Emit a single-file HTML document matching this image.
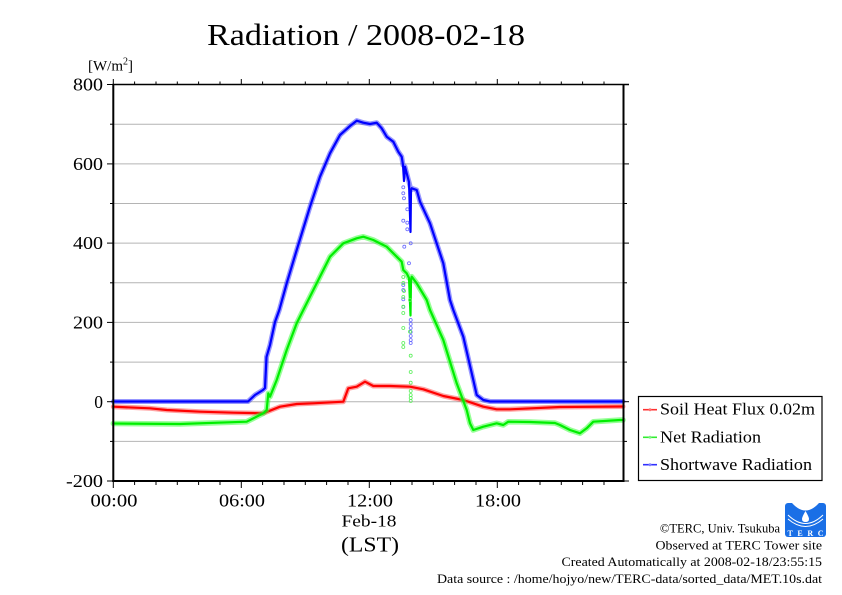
<!DOCTYPE html>
<html><head><meta charset="utf-8"><style>
html,body{margin:0;padding:0;background:#fff;}
svg{display:block;}
text{font-family:"Liberation Serif","DejaVu Serif",serif;fill:#000;}
</style></head><body>
<svg width="842" height="595" viewBox="0 0 842 595" xmlns="http://www.w3.org/2000/svg">
<rect width="842" height="595" fill="#fff"/>
<!-- title -->
<text x="207" y="45" font-size="31" textLength="318" lengthAdjust="spacingAndGlyphs">Radiation / 2008-02-18</text>
<!-- unit -->
<text x="88" y="70.5" font-size="15">[W/m<tspan font-size="10" dy="-6">2</tspan><tspan dy="6">]</tspan></text>
<!-- gridlines -->
<g stroke="#b4b4b4" stroke-width="1">
<line x1="114" x2="623" y1="124.2" y2="124.2"/>
<line x1="114" x2="623" y1="163.9" y2="163.9"/>
<line x1="114" x2="623" y1="203.5" y2="203.5"/>
<line x1="114" x2="623" y1="243.1" y2="243.1"/>
<line x1="114" x2="623" y1="282.8" y2="282.8"/>
<line x1="114" x2="623" y1="322.4" y2="322.4"/>
<line x1="114" x2="623" y1="362.1" y2="362.1"/>
<line x1="114" x2="623" y1="401.7" y2="401.7"/>
<line x1="114" x2="623" y1="441.4" y2="441.4"/>
</g>
<!-- data -->
<g fill="none" stroke-linejoin="round" stroke-linecap="round">
<!-- red -->
<polyline stroke="#ff3030" stroke-opacity="0.45" stroke-width="5" points="113.3,406.7 150,408.3 166.7,410 200,411.7 233.3,412.7 263.3,413.3 280,406.7 296.7,404 313.3,403.3 343.3,401.7 348.3,388.3 356.7,386.7 365,381.7 373.3,386 390,386 410,386.7 423.3,389.3 443.3,396 463.3,400 483.3,406.7 496.7,409.3 510,409.3 560,407 623,406.5"/>
<polyline stroke="#ff0000" stroke-width="2.2" points="113.3,406.7 150,408.3 166.7,410 200,411.7 233.3,412.7 263.3,413.3 280,406.7 296.7,404 313.3,403.3 343.3,401.7 348.3,388.3 356.7,386.7 365,381.7 373.3,386 390,386 410,386.7 423.3,389.3 443.3,396 463.3,400 483.3,406.7 496.7,409.3 510,409.3 560,407 623,406.5"/>
<!-- green -->
<polyline stroke="#30ff30" stroke-opacity="0.5" stroke-width="5.5" points="113.3,423.5 180,424 246.7,421.7 263.3,413.3 266.7,410 268.3,393.3 270,396.7 276.7,380 286.7,350 296.7,323.3 303.3,310 316.7,283.3 330,256.7 343.3,243.3 356.7,238.3 363.3,236.7 373.3,240 386.7,246.7 396.7,256.7 401.7,261.7 403.3,270 406.7,273.3 409,278 411.7,276.7 416.7,283.3 426.7,300 430,310 443.3,340 456.7,383.3 466.7,410 470,423.3 473.3,430 483.3,426.7 496.7,423.3 503.3,425 508.3,421.7 530,422 555,423 560,425 570,430 580,433.3 586.7,428.3 593.3,421.7 620,420 623,420"/>
<polyline stroke="#00ee00" stroke-width="2.2" points="113.3,423.5 180,424 246.7,421.7 263.3,413.3 266.7,410 268.3,393.3 270,396.7 276.7,380 286.7,350 296.7,323.3 303.3,310 316.7,283.3 330,256.7 343.3,243.3 356.7,238.3 363.3,236.7 373.3,240 386.7,246.7 396.7,256.7 401.7,261.7 403.3,270 406.7,273.3 409,278 410.5,315.5 411,280 411.7,276.7 416.7,283.3 426.7,300 430,310 443.3,340 456.7,383.3 466.7,410 470,423.3 473.3,430 483.3,426.7 496.7,423.3 503.3,425 508.3,421.7 530,422 555,423 560,425 570,430 580,433.3 586.7,428.3 593.3,421.7 620,420 623,420"/>
<!-- blue -->
<polyline stroke="#3030ff" stroke-opacity="0.5" stroke-width="5" points="113.3,401.5 248,401.5 255,395 263,390 265,388 266.5,357 270,345 275,322 279.3,310 286.7,283.3 296.7,250 310,206.7 320,176.7 330,153.3 340,135 350,126 356.7,120.7 363.3,122.7 370,124 376.7,122.7 381.7,128.3 386.7,136.7 393.3,141.7 398.3,151.7 401.7,156.7 403,165 405,166.7 406.7,173.3 409,182 411,190 411.7,188.3 416.7,190 420,201.7 430,223.3 443.3,263.3 450,300 453.3,310 463.3,336.7 473.3,380 476.7,395 483.3,400 490,401.5 623,401.5"/>
<polyline stroke="#0000ff" stroke-width="2.2" points="113.3,401.5 248,401.5 255,395 263,390 265,388 266.5,357 270,345 275,322 279.3,310 286.7,283.3 296.7,250 310,206.7 320,176.7 330,153.3 340,135 350,126 356.7,120.7 363.3,122.7 370,124 376.7,122.7 381.7,128.3 386.7,136.7 393.3,141.7 398.3,151.7 401.7,156.7 403,165 404,181 405,166.7 406.7,173.3 409,182 410.5,232 411,190 411.7,188.3 416.7,190 420,201.7 430,223.3 443.3,263.3 450,300 453.3,310 463.3,336.7 473.3,380 476.7,395 483.3,400 490,401.5 623,401.5"/>
</g>
<!-- scattered dots -->
<g fill="none" stroke="#6a6aff" stroke-width="0.8">
<circle cx="403.3" cy="187.3" r="1.5"/><circle cx="403.3" cy="193.3" r="1.5"/><circle cx="404" cy="198.3" r="1.5"/>
<circle cx="407.3" cy="209.3" r="1.5"/><circle cx="403.3" cy="220.7" r="1.5"/><circle cx="407.3" cy="222.7" r="1.5"/>
<circle cx="407.3" cy="229.3" r="1.5"/><circle cx="410.7" cy="243.3" r="1.5"/><circle cx="404.3" cy="246.7" r="1.5"/>
<circle cx="409" cy="263.3" r="1.5"/><circle cx="403.3" cy="285" r="1.5"/><circle cx="403.3" cy="290" r="1.5"/>
<circle cx="403.3" cy="299.3" r="1.5"/><circle cx="410.7" cy="320" r="1.5"/><circle cx="410.7" cy="324" r="1.5"/>
<circle cx="410.7" cy="328" r="1.5"/><circle cx="410.7" cy="332" r="1.5"/><circle cx="410.7" cy="336" r="1.5"/>
<circle cx="410.7" cy="340" r="1.5"/><circle cx="410.7" cy="343" r="1.5"/><circle cx="403.3" cy="307" r="1.5"/>
</g>
<g fill="none" stroke="#5aef5a" stroke-width="0.8">
<circle cx="403.3" cy="277" r="1.5"/><circle cx="403.3" cy="283" r="1.5"/><circle cx="404" cy="291" r="1.5"/>
<circle cx="403.3" cy="297" r="1.5"/><circle cx="403.3" cy="306.7" r="1.5"/><circle cx="403.3" cy="328" r="1.5"/>
<circle cx="410" cy="331.7" r="1.5"/><circle cx="403.3" cy="343" r="1.5"/><circle cx="403.3" cy="347" r="1.5"/>
<circle cx="410.7" cy="355.7" r="1.5"/><circle cx="410.7" cy="372" r="1.5"/><circle cx="410.7" cy="382.7" r="1.5"/>
<circle cx="410.7" cy="391" r="1.5"/><circle cx="410.7" cy="395" r="1.5"/><circle cx="410.7" cy="398" r="1.5"/>
<circle cx="410.7" cy="401" r="1.5"/><circle cx="403.3" cy="313" r="1.5"/><circle cx="410" cy="300" r="1.5"/>
</g>
<!-- frame -->
<g stroke="#000" fill="none">
<line x1="112.3" y1="84.5" x2="629" y2="84.5" stroke-width="1.5"/>
<line x1="113.3" y1="84" x2="113.3" y2="482" stroke-width="2"/>
<line x1="112.3" y1="481" x2="624.5" y2="481" stroke-width="2"/>
<line x1="623.5" y1="84" x2="623.5" y2="482" stroke-width="2"/>
</g>
<!-- ticks -->
<g stroke="#000" stroke-width="1">
<line x1="113.3" y1="84" x2="113.3" y2="79"/><line x1="134.6" y1="84" x2="134.6" y2="81.5"/><line x1="156" y1="84" x2="156" y2="81.5"/><line x1="177.3" y1="84" x2="177.3" y2="81.5"/><line x1="198.6" y1="84" x2="198.6" y2="81.5"/><line x1="220" y1="84" x2="220" y2="81.5"/>
<line x1="241.3" y1="84" x2="241.3" y2="79"/><line x1="262.6" y1="84" x2="262.6" y2="81.5"/><line x1="284" y1="84" x2="284" y2="81.5"/><line x1="305.3" y1="84" x2="305.3" y2="81.5"/><line x1="326.6" y1="84" x2="326.6" y2="81.5"/><line x1="348" y1="84" x2="348" y2="81.5"/>
<line x1="369.3" y1="84" x2="369.3" y2="79"/><line x1="390.6" y1="84" x2="390.6" y2="81.5"/><line x1="412" y1="84" x2="412" y2="81.5"/><line x1="433.3" y1="84" x2="433.3" y2="81.5"/><line x1="454.6" y1="84" x2="454.6" y2="81.5"/><line x1="476" y1="84" x2="476" y2="81.5"/>
<line x1="497.3" y1="84" x2="497.3" y2="79"/><line x1="518.6" y1="84" x2="518.6" y2="81.5"/><line x1="540" y1="84" x2="540" y2="81.5"/><line x1="561.3" y1="84" x2="561.3" y2="81.5"/><line x1="582.6" y1="84" x2="582.6" y2="81.5"/><line x1="604" y1="84" x2="604" y2="81.5"/>
<line x1="113.3" y1="481" x2="113.3" y2="488"/><line x1="134.6" y1="481" x2="134.6" y2="485"/><line x1="156" y1="481" x2="156" y2="485"/><line x1="177.3" y1="481" x2="177.3" y2="485"/><line x1="198.6" y1="481" x2="198.6" y2="485"/><line x1="220" y1="481" x2="220" y2="485"/>
<line x1="241.3" y1="481" x2="241.3" y2="488"/><line x1="262.6" y1="481" x2="262.6" y2="485"/><line x1="284" y1="481" x2="284" y2="485"/><line x1="305.3" y1="481" x2="305.3" y2="485"/><line x1="326.6" y1="481" x2="326.6" y2="485"/><line x1="348" y1="481" x2="348" y2="485"/>
<line x1="369.3" y1="481" x2="369.3" y2="488"/><line x1="390.6" y1="481" x2="390.6" y2="485"/><line x1="412" y1="481" x2="412" y2="485"/><line x1="433.3" y1="481" x2="433.3" y2="485"/><line x1="454.6" y1="481" x2="454.6" y2="485"/><line x1="476" y1="481" x2="476" y2="485"/>
<line x1="497.3" y1="481" x2="497.3" y2="488"/><line x1="518.6" y1="481" x2="518.6" y2="485"/><line x1="540" y1="481" x2="540" y2="485"/><line x1="561.3" y1="481" x2="561.3" y2="485"/><line x1="582.6" y1="481" x2="582.6" y2="485"/><line x1="604" y1="481" x2="604" y2="485"/>
<line x1="107" y1="84.5" x2="113" y2="84.5"/><line x1="110" y1="124.2" x2="113" y2="124.2"/><line x1="107" y1="163.9" x2="113" y2="163.9"/><line x1="110" y1="203.5" x2="113" y2="203.5"/>
<line x1="107" y1="243.1" x2="113" y2="243.1"/><line x1="110" y1="282.8" x2="113" y2="282.8"/><line x1="107" y1="322.4" x2="113" y2="322.4"/><line x1="110" y1="362.1" x2="113" y2="362.1"/>
<line x1="107" y1="401.7" x2="113" y2="401.7"/><line x1="110" y1="441.4" x2="113" y2="441.4"/><line x1="107" y1="481" x2="113" y2="481"/>
<line x1="624" y1="124.2" x2="627" y2="124.2"/><line x1="624" y1="163.9" x2="629" y2="163.9"/><line x1="624" y1="203.5" x2="627" y2="203.5"/>
<line x1="624" y1="243.1" x2="629" y2="243.1"/><line x1="624" y1="282.8" x2="627" y2="282.8"/><line x1="624" y1="322.4" x2="629" y2="322.4"/><line x1="624" y1="362.1" x2="627" y2="362.1"/>
<line x1="624" y1="401.7" x2="629" y2="401.7"/><line x1="624" y1="441.4" x2="627" y2="441.4"/><line x1="624" y1="481" x2="629" y2="481"/>
</g>
<!-- y labels -->
<g font-size="17.5" text-anchor="end">
<text x="103" y="90.5" textLength="30" lengthAdjust="spacingAndGlyphs">800</text>
<text x="103" y="169.9" textLength="30" lengthAdjust="spacingAndGlyphs">600</text>
<text x="103" y="249.1" textLength="30" lengthAdjust="spacingAndGlyphs">400</text>
<text x="103" y="328.4" textLength="30" lengthAdjust="spacingAndGlyphs">200</text>
<text x="103" y="407.9">0</text>
<text x="103" y="487" textLength="37" lengthAdjust="spacingAndGlyphs">-200</text>
</g>
<!-- x labels -->
<g font-size="17.5" text-anchor="middle">
<text x="114" y="506.5" textLength="47" lengthAdjust="spacingAndGlyphs">00:00</text>
<text x="242" y="506.5" textLength="46" lengthAdjust="spacingAndGlyphs">06:00</text>
<text x="370" y="506.5" textLength="46" lengthAdjust="spacingAndGlyphs">12:00</text>
<text x="498" y="506.5" textLength="46" lengthAdjust="spacingAndGlyphs">18:00</text>
</g>
<text x="369" y="526.5" font-size="17" text-anchor="middle" textLength="55" lengthAdjust="spacingAndGlyphs">Feb-18</text>
<text x="370" y="551.5" font-size="21" text-anchor="middle" textLength="58" lengthAdjust="spacingAndGlyphs">(LST)</text>
<!-- legend -->
<rect x="638.5" y="396.5" width="183.5" height="84" fill="#fff" stroke="#000" stroke-width="1.2"/>
<g stroke-width="1.6">
<line x1="643" y1="409.7" x2="657" y2="409.7" stroke="#ff3030"/><circle cx="650" cy="409.7" r="1.5" fill="#ff7070"/>
<line x1="643" y1="437.3" x2="657" y2="437.3" stroke="#30ee30"/><circle cx="650" cy="437.3" r="1.5" fill="#80f080"/>
<line x1="643" y1="464.7" x2="657" y2="464.7" stroke="#3030ff"/><circle cx="650" cy="464.7" r="1.5" fill="#8080ff"/>
</g>
<g font-size="16.5">
<text x="660" y="414.5" textLength="155" lengthAdjust="spacingAndGlyphs">Soil Heat Flux 0.02m</text>
<text x="660" y="442.3" textLength="101" lengthAdjust="spacingAndGlyphs">Net Radiation</text>
<text x="660" y="470" textLength="152" lengthAdjust="spacingAndGlyphs">Shortwave Radiation</text>
</g>
<!-- logo -->
<g>
<rect x="785" y="503" width="41" height="34" rx="3" fill="#1a6fe6"/>
<path d="M792,503 Q805.5,518 819,503 Z" fill="#fff"/>
<path d="M805.5,511 Q802,517 802,519 Q802,522 805.5,522 Q809,522 809,519 Q809,517 805.5,511 Z" fill="#fff"/>
<path d="M788,515 Q805.5,532 823,515" fill="none" stroke="#fff" stroke-width="1"/>
<path d="M788,519 Q805.5,534 823,519" fill="none" stroke="#fff" stroke-width="1"/>
<text x="805.5" y="536" font-family="'Liberation Sans',sans-serif" font-size="8" font-weight="bold" text-anchor="middle" style="fill:#fff" textLength="36" lengthAdjust="spacing">TERC</text>
</g>
<!-- footer -->
<g font-size="12.5" text-anchor="end">
<text x="780" y="532.5">©TERC, Univ. Tsukuba</text>
<text x="822" y="549.3" textLength="166.5" lengthAdjust="spacingAndGlyphs">Observed at TERC Tower site</text>
<text x="822" y="566" textLength="260.5" lengthAdjust="spacingAndGlyphs">Created Automatically at 2008-02-18/23:55:15</text>
<text x="822" y="583" textLength="385" lengthAdjust="spacingAndGlyphs">Data source : /home/hojyo/new/TERC-data/sorted_data/MET.10s.dat</text>
</g>
</svg>
</body></html>
